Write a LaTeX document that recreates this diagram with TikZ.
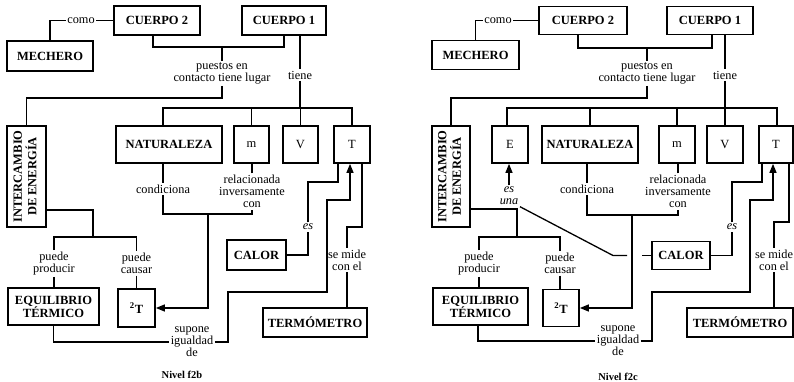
\documentclass[tikz,border=0pt]{standalone}
\usepackage{fontspec}
\setmainfont{Liberation Serif}
\newfontfamily\tnr{Liberation Serif}
\usetikzlibrary{arrows.meta}
\begin{document}
\begin{tikzpicture}[x=1pt,y=-1pt,
  box/.style={draw, line width=1.7pt, font=\tnr\bfseries\fontsize{12.5}{13}\selectfont, inner sep=0pt, align=center},
  lett/.style={box, font=\tnr\fontsize{12.5}{13}\selectfont},
  lab/.style={font=\tnr\fontsize{12.3}{12}\selectfont, inner sep=1.5pt, align=center},
  itlab/.style={lab, font=\tnr\itshape\fontsize{12.3}{12}\selectfont},
  con/.style={line width=1.3pt},
  arr/.style={line width=1.3pt, -{Triangle[length=9pt,width=7pt]}},
  title/.style={font=\tnr\bfseries\fontsize{10.5}{12}\selectfont, inner sep=0pt}]
\useasboundingbox (0,0) rectangle (794,382);
\newcommand{\intertext}{\rotatebox{90}{\begin{tabular}{@{}c@{}}INTERCAMBIO\\DE ENERGÍA\end{tabular}}}

% ---------------- LEFT: Nivel f2b ----------------
\node[box, minimum width=86pt, minimum height=30pt] (mechL) at (50,56) {MECHERO};
\node[box, minimum width=86pt, minimum height=29pt] (c2L) at (157,20.5) {CUERPO 2};
\node[box, minimum width=84pt, minimum height=29pt] (c1L) at (284,20.5) {CUERPO 1};
\node[box, minimum width=39pt, minimum height=101pt] (intL) at (26.5,176.5) {\intertext};
\node[box, minimum width=106pt, minimum height=37pt] (natL) at (169,144.5) {NATURALEZA};
\node[lett, minimum width=35pt, minimum height=37pt] (mL) at (251.5,144.5) {m};
\node[lett, minimum width=35pt, minimum height=37pt] (VL) at (300.5,144.5) {V};
\node[lett, minimum width=36pt, minimum height=37pt] (TL) at (352,144.5) {T};
\node[box, minimum width=59pt, minimum height=30pt] (calL) at (256.5,255) {CALOR};
\node[box, minimum width=91pt, minimum height=37pt] (eqL) at (53.5,306.5) {EQUILIBRIO\\TÉRMICO};
\node[box, minimum width=37pt, minimum height=38pt] (dTL) at (136.5,308) {\textsuperscript{2}T};
\node[box, minimum width=104pt, minimum height=29pt] (termL) at (315,322.5) {TERMÓMETRO};

\node[lab] (comoL) at (81,20.5) {como};
\node[lab] (pueL) at (222,73.5) {puestos en\\contacto tiene lugar};
\node[lab] (tieL) at (300,75) {tiene};
\node[lab] (condL) at (163,189) {condiciona};
\node[lab] (relL) at (252,191.5) {relacionada\\inversamente\\con};
\node[lab] (prodL) at (54,263.5) {puede\\producir};
\node[lab] (causL) at (136.5,263.5) {puede\\causar};
\node[itlab] (esL) at (308,227) {es};
\node[lab] (supL) at (192,342) {supone\\igualdad\\de};
\node[lab] (midL) at (347,260) {se mide\\con el};
\node[title] (nivL) at (182,375) {Nivel f2b};

\coordinate (j1L) at (222,47);
\coordinate (j2L) at (26.5,98);
\coordinate (j3L) at (300,108);
\coordinate (j4L) at (208,214);
\coordinate (j5L) at (93,237);
\coordinate (j6L) at (308,182);
\coordinate (j7L) at (228,292);
\coordinate (j8L) at (327,200);
\coordinate (j9L) at (347,227);

\draw[con] (mechL.north) |- (comoL.west);
\draw[con] (comoL.east) -- (c2L.west);
\draw[con] ([xshift=-4pt]c2L.south) |- (j1L) -| (c1L.south);
\draw[con] (j1L) -- (pueL.north);
\draw[con] (pueL.south) |- (j2L) -- (intL.north);
\draw[con] ([xshift=16pt]c1L.south) -- (tieL.north);
\draw[con] (tieL.south) -- (j3L);
\draw[con] ([xshift=-6pt]natL.north) |- (j3L) -| (TL.north);
\draw[con] (mL.north) -- (mL.north |- j3L);
\draw[con] (VL.north) -- (VL.north |- j3L);
\draw[con] (condL.north) -- (condL.north |- natL.south);
\draw[con] (condL.south) |- (j4L) -| (relL.south);
\draw[con] (relL.north) -- (relL.north |- mL.south);
\draw[arr] (j4L) |- (dTL.east);
\draw[con] ([yshift=-33.5pt]intL.east) -| (j5L);
\draw[con] (prodL.north) |- (j5L) -| (causL.north);
\draw[con] (prodL.south) -- (prodL.south |- eqL.north);
\draw[con] (causL.south) -- (dTL.north);
\draw[con] (calL.east) -| (esL.south);
\draw[con] (esL.north) -- (j6L) -| ([xshift=-14pt]TL.south);
\draw[con] (eqL.south) |- (supL.west);
\draw[arr] (supL.east) -| (j7L) -| (j8L) -| ([xshift=-2pt]TL.south);
\draw[con] ([xshift=10pt]TL.south) |- (j9L) -- (midL.north);
\draw[con] (midL.south) -- (midL.south |- termL.north);

% ---------------- RIGHT: Nivel f2c ----------------
\node[box, minimum width=87pt, minimum height=29pt] (mechR) at (475.5,55) {MECHERO};
\node[box, minimum width=88pt, minimum height=28pt] (c2R) at (583,20.5) {CUERPO 2};
\node[box, minimum width=86pt, minimum height=28pt] (c1R) at (710,20.5) {CUERPO 1};
\node[box, minimum width=38pt, minimum height=101pt] (intR) at (451,176.5) {\intertext};
\node[lett, minimum width=36pt, minimum height=37pt] (ER) at (510,144.5) {E};
\node[box, minimum width=96pt, minimum height=37pt] (natR) at (590,144.5) {NATURALEZA};
\node[lett, minimum width=36pt, minimum height=37pt] (mR) at (677,144.5) {m};
\node[lett, minimum width=36pt, minimum height=37pt] (VR) at (725,144.5) {V};
\node[lett, minimum width=34pt, minimum height=37pt] (TR) at (776,144.5) {T};
\node[box, minimum width=58pt, minimum height=28pt] (calR) at (681,255.5) {CALOR};
\node[box, minimum width=95pt, minimum height=37pt] (eqR) at (480.5,306.5) {EQUILIBRIO\\TÉRMICO};
\node[box, minimum width=36pt, minimum height=37pt] (dTR) at (561,308) {\textsuperscript{2}T};
\node[box, minimum width=106pt, minimum height=29pt] (termR) at (740,322.5) {TERMÓMETRO};

\node[lab] (comoR) at (498,20.5) {como};
\node[lab] (pueR) at (647,73.5) {puestos en\\contacto tiene lugar};
\node[lab] (tieR) at (725,75) {tiene};
\node[lab] (condR) at (587,189) {condiciona};
\node[lab] (relR) at (678,191.5) {relacionada\\inversamente\\con};
\node[lab] (prodR) at (479,263.5) {puede\\producir};
\node[lab] (causR) at (560,263.5) {puede\\causar};
\node[itlab] (esunaR) at (509,196) {es\\una};
\node[itlab] (esR) at (732,227) {es};
\node[lab] (supR) at (618,341) {supone\\igualdad\\de};
\node[lab] (midR) at (774,260) {se mide\\con el};
\node[title] (nivR) at (618,377) {Nivel f2c};

\coordinate (j1R) at (647,48);
\coordinate (j2R) at (451,98);
\coordinate (j3R) at (725,108);
\coordinate (j4R) at (632,215);
\coordinate (j5R) at (517,237);
\coordinate (j6R) at (732,182);
\coordinate (j7R) at (652,292);
\coordinate (j8R) at (750,200);
\coordinate (j9R) at (774,222);
\coordinate (d1R) at (613,255.5);
\coordinate (d2R) at (627,255.5);
\coordinate (d3R) at (642,255.5);

\draw[con] (mechR.north) |- (comoR.west);
\draw[con] (comoR.east) -- (c2R.west);
\draw[con] ([xshift=-5pt]c2R.south) |- (j1R) -| ([xshift=2pt]c1R.south);
\draw[con] (j1R) -- (pueR.north);
\draw[con] (pueR.south) |- (j2R) -- (intR.north);
\draw[con] ([xshift=15pt]c1R.south) -- (tieR.north);
\draw[con] (tieR.south) -- (j3R);
\draw[con] ([xshift=-3pt]ER.north) |- (j3R) -| ([xshift=1pt]TR.north);
\draw[con] (natR.north) -- (natR.north |- j3R);
\draw[con] (mR.north) -- (mR.north |- j3R);
\draw[con] (VR.north) -- (VR.north |- j3R);
\draw[con] (condR.north) -- (condR.north |- natR.south);
\draw[con] (condR.south) |- (j4R) -| (relR.south);
\draw[con] (relR.north) -- (relR.north |- mR.south);
\draw[arr] (j4R) |- (dTR.east);
\draw[con] ([yshift=-32.5pt]intR.east) -| (j5R);
\draw[con] (prodR.north) |- (j5R) -| (causR.north);
\draw[con] (prodR.south) -- (prodR.south |- eqR.north);
\draw[con] (causR.south) -- (causR.south |- dTR.north);
\draw[arr] (esunaR.north) -- (esunaR.north |- ER.south);
\draw[con] (esunaR.south east) -- (d1R) -- (d2R);
\draw[con] (d3R) -- (calR.west);
\draw[con] (calR.east) -| (esR.south);
\draw[con] (esR.north) -- (j6R) -| ([xshift=-14pt]TR.south);
\draw[con] ([xshift=-2.5pt]eqR.south) |- (supR.west);
\draw[arr] (supR.east) -| (j7R) -| (j8R) -| ([xshift=-3pt]TR.south);
\draw[con] ([xshift=13pt]TR.south) |- (j9R) -- (midR.north);
\draw[con] (midR.south) -- (midR.south |- termR.north);
\end{tikzpicture}
\end{document}
